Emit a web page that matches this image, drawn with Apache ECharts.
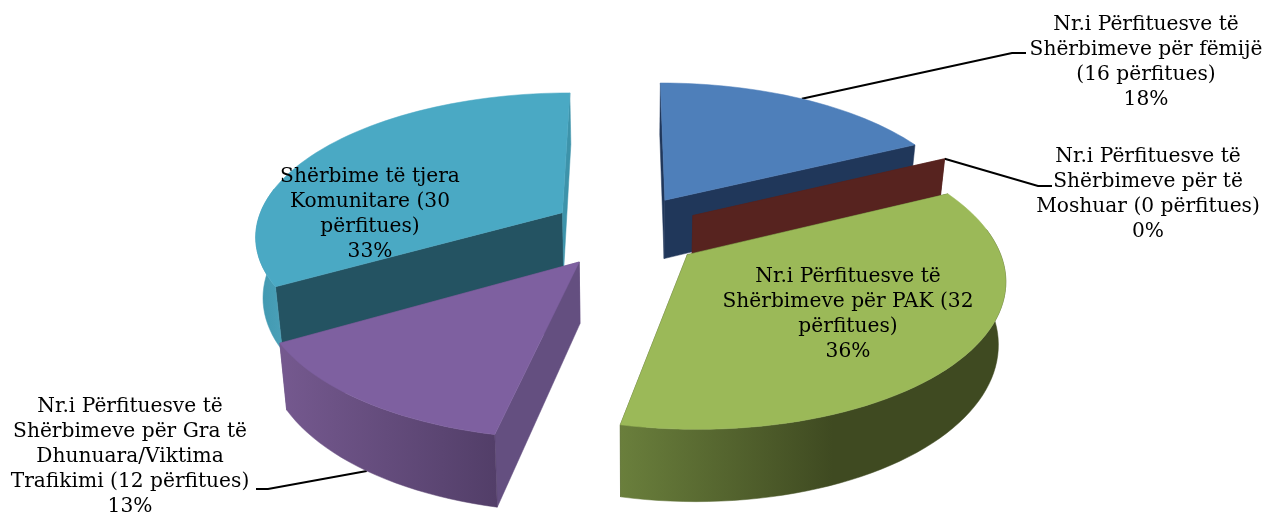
<!DOCTYPE html>
<html>
<head>
<meta charset="utf-8">
<title>Përfituesit e shërbimeve</title>
<style>
  html, body { margin: 0; height: 100%; background: #fff; }
  #chart { width: 1264px; height: 515px; }
</style>
<script src="https://cdn.jsdelivr.net/npm/echarts@6/dist/echarts.min.js"></script>
</head>
<body>
<div id="chart"></div>
<script>
// data
var sliceNames = [
  'Nr.i Përfituesve të\nShërbimeve për fëmijë\n(16 përfitues)',
  'Nr.i Përfituesve të\nShërbimeve për të\nMoshuar (0 përfitues)',
  'Nr.i Përfituesve të\nShërbimeve për PAK (32\npërfitues)',
  'Nr.i Përfituesve të\nShërbimeve për Gra të\nDhunuara/Viktima\nTrafikimi (12 përfitues)',
  'Shërbime të tjera\nKomunitare (30\npërfitues)'
]
var sliceValues = [16, 0, 32, 12, 30]
var total = sliceValues.reduce(function (a, b) { return a + b }, 0)

// look of each slice, same order as the data
var topColors = ['#4e7fba', '#57231f', '#9bb958', '#7e60a0', '#4aa9c4']
var startWallColors = ['#20375a', '#57231f', '#3f4a21', '#644f80', '#245362']
var endWallColors = ['#20375a', '#57231f', '#3f4a21', '#644f80', '#3d93aa']
var sideColors = [
  ['#20375a', '#20375a'],
  ['#57231f', '#57231f'],
  ['#6a7f3c', '#3f4a21'],
  ['#75598f', '#523e68'],
  ['#3f97af', '#4aa0b8']
]
var drawOrder = [2, 3, 5, 4, 1]

// pie geometry (perspective of the old 3d office chart)
var cx = 625, cy = 231
var rx = 307, ry = 142, depth = 60
var persp = 0.15, shrink = 0.02
var explode = 0.22
// small per slice shift, the explode in the original is not quite even
var nudge = [[5, -5], [8, -2], [8, 4], [-5, 5], [-5, -3]]

// label placement
var textFont = '"DejaVu Serif", serif'
var fontSize = 20.2
var lineHeight = 25
var labelPos = [[1146, 12], [1148, 144], [848, 264], [130, 394], [370, 164]]
// elbow of the leader: [x1, y1, x2, y2, z of anchor], null = no leader
var leaders = [
  [1012, 53, 1026, 53, 0],
  [1038, 186, 1052, 186, 0],
  null,
  [268, 489, 256, 489, 1],
  null
]

function project(u, v, z, n) {
  var s = 1 / (1 - persp * v)
  var k = 1 - shrink * z
  return [
    cx + rx * u * s * k + n[0],
    cy + ry * v * s + depth * z * s + n[1]
  ]
}

function rim(a, ox, oy, z, n) {
  var r = a * Math.PI / 180
  return project(ox + Math.sin(r), oy - Math.cos(r), z, n)
}

function arcPoints(from, to, ox, oy, z, n) {
  var pts = []
  var steps = Math.max(2, Math.ceil(Math.abs(to - from) / 2))
  for (var i = 0; i <= steps; i++) {
    pts.push(rim(from + (to - from) * i / steps, ox, oy, z, n))
  }
  return pts
}

function poly(points, fill, z2) {
  return {
    type: 'polygon',
    z2: z2,
    shape: { points: points },
    style: { fill: fill, stroke: fill, lineWidth: 0.5 }
  }
}

function renderSlice(params, api) {
  var i = params.dataIndex
  var value = api.value(0)
  var before = sliceValues.slice(0, i).reduce(function (a, b) { return a + b }, 0)
  var a0 = before / total * 360
  var a1 = (before + value) / total * 360
  var mid = (a0 + a1) / 2
  var midR = mid * Math.PI / 180
  var ox = explode * Math.sin(midR)
  var oy = -explode * Math.cos(midR)
  var n = nudge[i]
  var base = drawOrder[i] * 10
  var apexTop = project(ox, oy, 0, n)
  var apexBottom = project(ox, oy, 1, n)
  var children = []

  // cut walls
  children.push(poly([apexTop, rim(a0, ox, oy, 0, n), rim(a0, ox, oy, 1, n), apexBottom], startWallColors[i], base + (i === 4 ? 1 : 2)))
  children.push(poly([apexTop, rim(a1, ox, oy, 0, n), rim(a1, ox, oy, 1, n), apexBottom], endWallColors[i], base + (i === 4 ? 2 : 1)))

  // outer wall, only the part that faces the viewer
  var from = Math.max(a0, 80)
  var to = Math.min(a1, 280)
  if (to > from) {
    var top = arcPoints(from, to, ox, oy, 0, n)
    var bottom = arcPoints(from, to, ox, oy, 1, n).reverse()
    children.push(poly(top.concat(bottom), {
      type: 'linear', x: 0, y: 0, x2: 1, y2: 0,
      colorStops: i === 2
        ? [{ offset: 0, color: sideColors[i][0] }, { offset: 0.55, color: sideColors[i][1] }, { offset: 1, color: sideColors[i][1] }]
        : [{ offset: 0, color: sideColors[i][0] }, { offset: 1, color: sideColors[i][1] }]
    }, base + 3))
  }

  // top face
  if (a1 > a0) {
    children.push(poly([apexTop].concat(arcPoints(a0, a1, ox, oy, 0, n)), topColors[i], base + 4))
  }

  // leader line
  if (leaders[i]) {
    var l = leaders[i]
    var anchor = rim(mid, ox, oy, l[4], n)
    children.push({
      type: 'polyline',
      z2: l[4] ? base - 1 : 5,
      shape: { points: [anchor, [l[0], l[1]], [l[2], l[3]]] },
      style: { stroke: '#000', lineWidth: 2, fill: null }
    })
  }

  // label
  children.push({
    type: 'text',
    z2: 100,
    style: {
      text: sliceNames[i] + '\n' + Math.round(value / total * 100) + '%',
      x: labelPos[i][0],
      y: labelPos[i][1],
      align: 'center',
      verticalAlign: 'top',
      lineHeight: lineHeight,
      fontFamily: textFont,
      fontSize: fontSize,
      fill: '#000'
    }
  })

  return { type: 'group', children: children }
}

var myChart = echarts.init(document.getElementById('chart'))
myChart.setOption({
  animation: false,
  backgroundColor: '#fff',
  series: [
    {
      type: 'custom',
      coordinateSystem: 'none',
      silent: true,
      renderItem: renderSlice,
      data: sliceValues.map(function (v) { return [v] })
    }
  ]
})
</script>
</body>
</html>
